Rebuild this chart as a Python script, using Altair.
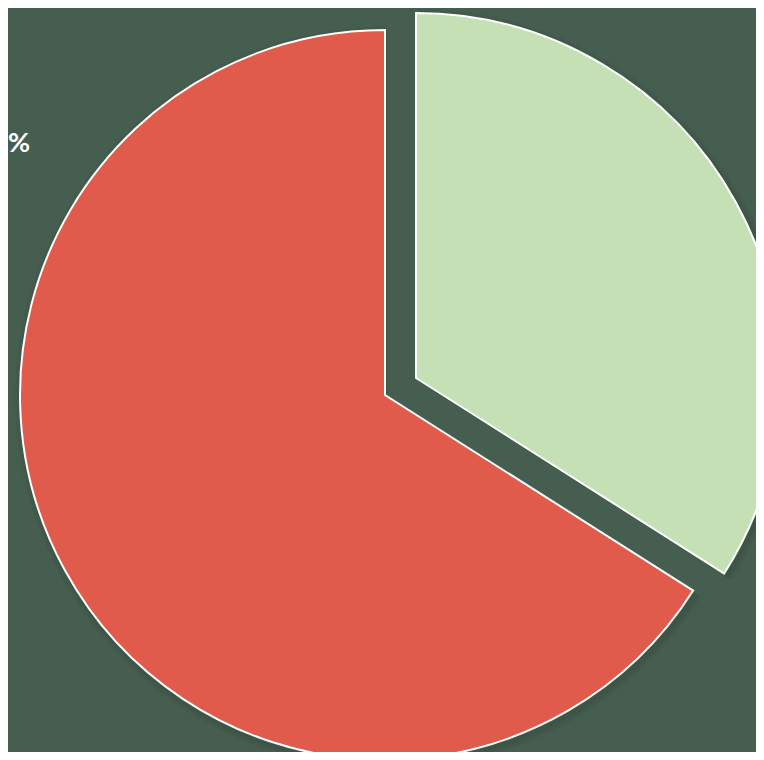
import altair as alt
import pandas as pd

categories = ["Green", "Red"]
values = [34, 66]
colors = ["#c5e0b4", "#e05b4c"]

df = pd.DataFrame({"category": categories, "value": values})
df["end"] = df["value"].cumsum()
df["start"] = df["end"] - df["value"]

BG = "#455e50"
R = 365
CX, CY = 377, 387
OFF_X, OFF_Y = 31, -17

theta_scale = alt.Scale(domain=[0, 100], range=[0, 6.283185307])
color_scale = alt.Scale(domain=categories, range=colors)

base = alt.Chart(df)


def slice_layers(cat, cx, cy):
    layers = []
    # soft shadow
    for extra, op in [(7, 0.05), (5, 0.06), (3, 0.08)]:
        layers.append(
            base.transform_filter(alt.datum.category == cat).mark_arc(
                color="#1f2d25", opacity=op, padAngle=0
            ).encode(
                theta=alt.Theta("start:Q", scale=theta_scale),
                theta2="end:Q",
                x=alt.value(cx + 2),
                y=alt.value(cy + 3),
                radius=alt.value(R + extra),
            )
        )
    layers.append(
        base.transform_filter(alt.datum.category == cat).mark_arc(
            stroke="white", strokeWidth=2
        ).encode(
            theta=alt.Theta("start:Q", scale=theta_scale),
            theta2="end:Q",
            color=alt.Color("category:N", scale=color_scale, legend=None),
            x=alt.value(cx),
            y=alt.value(cy),
            radius=alt.value(R),
        )
    )
    return layers


layers = []
layers += slice_layers("Red", CX, CY)
layers += slice_layers("Green", CX + OFF_X, CY + OFF_Y)

label = alt.Chart(pd.DataFrame({"t": ["%"]})).mark_text(
    align="left", baseline="alphabetic", font="Lato", fontWeight="bold",
    fontSize=27, color="white"
).encode(text="t:N", x=alt.value(0), y=alt.value(144))

chart = alt.layer(*layers, label).properties(
    width=748, height=744, background=BG, padding=0,
    autosize=alt.AutoSizeParams(type="none")
).configure_view(stroke=None)

chart.save("out.html", embed_options={"renderer": "svg", "actions": False})
